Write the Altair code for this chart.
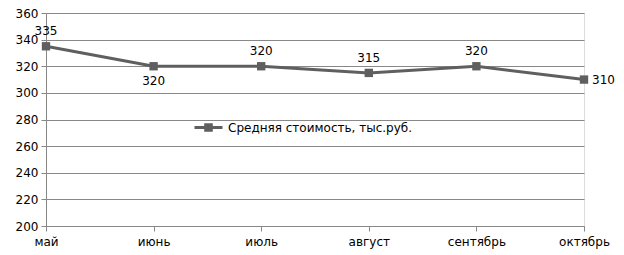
import altair as alt
import pandas as pd

months = ["май", "июнь", "июль", "август", "сентябрь", "октябрь"]
values = [335, 320, 320, 315, 320, 310]
label_pos = ["upleft", "below", "above", "above", "above", "right"]
series_name = "Средняя стоимость, тыс.руб."
y_ticks = [200, 220, 240, 260, 280, 300, 320, 340, 360]

df = pd.DataFrame({"month": months, "value": values, "pos": label_pos,
                   "series": [series_name] * len(months)})

FONT = "DejaVu Sans"
GRAY = "#5f5f5f"

x = alt.X("month:N", sort=months, title=None,
          scale=alt.Scale(type="point", padding=0),
          axis=alt.Axis(labelAngle=0, labelFontSize=12, labelFont=FONT, labelColor="#000",
                        domainColor="#888", tickColor="#888", tickSize=5, labelPadding=5,
                        grid=False))
y = alt.Y("value:Q", title=None,
          scale=alt.Scale(domain=[200, 360], nice=False, zero=False),
          axis=alt.Axis(values=y_ticks, labelFontSize=12, labelFont=FONT, labelColor="#000",
                        domainColor="#888", tickColor="#888", tickSize=5, labelPadding=3,
                        gridColor="#888", gridOpacity=1, gridWidth=1))

base = alt.Chart(df)

line = base.mark_line(strokeWidth=3).encode(
    x=x, y=y,
    color=alt.Color("series:N", scale=alt.Scale(range=[GRAY]),
                    legend=alt.Legend(title=None, orient="none", legendX=147, legendY=99,
                                      symbolType="M-1,0H1M-0.2,-0.2H0.2V0.2H-0.2Z",
                                      symbolSize=784, symbolStrokeWidth=3,
                                      symbolFillColor=GRAY, symbolStrokeColor=GRAY,
                                      labelFontSize=12, labelFont=FONT, labelColor="#000",
                                      labelOffset=4, labelLimit=0)),
)
pts = base.mark_point(shape="square", filled=True, size=70, color=GRAY, opacity=1).encode(x=x, y=y)

def lab(pos, **kw):
    return base.transform_filter(alt.datum.pos == pos).mark_text(
        font=FONT, fontSize=12, color="#000", **kw).encode(x=x, y=y, text="value:Q")

labels = (lab("above", dy=-15) + lab("below", dy=15) +
          lab("upleft", dy=-15, dx=0) + lab("right", align="left", dx=8))

chart = (line + pts + labels).properties(
    width=538, height=213,
    autosize=alt.AutoSizeParams(type="none"),
    padding={"left": 46, "top": 13, "right": 40, "bottom": 29},
).configure_view(stroke=None).configure(background="white")

chart.save("out.html", embed_options={"renderer": "svg", "actions": False})
